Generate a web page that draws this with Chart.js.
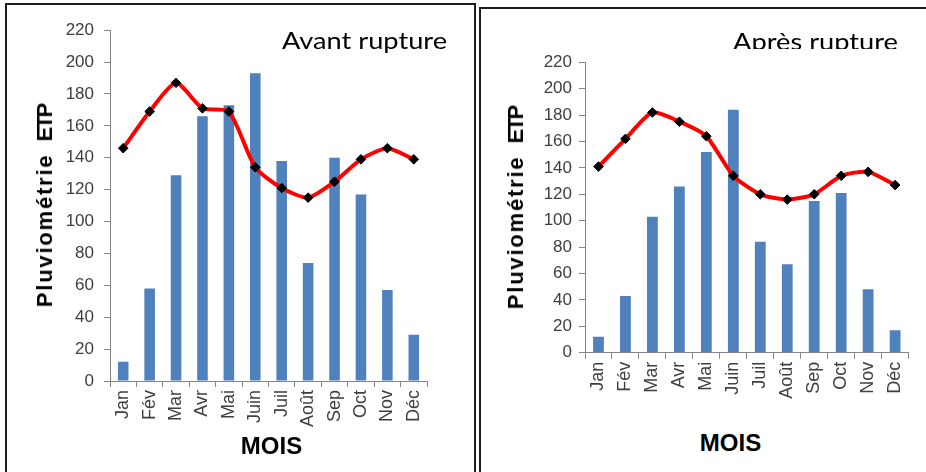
<!DOCTYPE html>
<html><head><meta charset="utf-8">
<script src="https://cdn.jsdelivr.net/npm/chart.js@4"></script>
<style>
html,body{margin:0;padding:0;background:#fff;width:926px;height:472px;overflow:hidden;position:relative;font-family:"Liberation Sans",Arial,sans-serif;}
.panel{position:absolute;border:2px solid #1e1e1e;border-bottom:none;box-sizing:border-box;}
.cv{position:absolute;}
.ytitle{position:absolute;font-weight:bold;font-size:22px;line-height:1;white-space:pre;color:#000;transform:translate(-50%,-50%) rotate(-90deg);}
.ytitle .a{letter-spacing:1.8px;display:inline-block;}
.ytitle .b{letter-spacing:-2px;margin-left:12px;display:inline-block;}
.xtitle{position:absolute;font-weight:bold;font-size:24px;line-height:1;white-space:pre;color:#000;transform:translate(-50%,-50%);}
.ttl{position:absolute;font-family:Lato,"Open Sans",sans-serif;font-size:24px;line-height:1.2;white-space:pre;color:#000;transform-origin:left top;}
.clip{position:absolute;overflow:hidden;}
</style></head>
<body>
<div class="panel" style="left:5px;top:3px;width:471px;height:480px;"></div>
<div class="panel" style="left:479px;top:7px;width:460px;height:480px;border-right:none;"></div>

<canvas id="c1" class="cv" width="440" height="440" style="left:10px;top:10px;width:440px;height:440px;"></canvas>
<canvas id="c2" class="cv" width="430" height="380" style="left:490px;top:40px;width:430px;height:380px;"></canvas>

<div class="ttl" id="t1" style="left:282px;top:25.6px;">Avant rupture</div>
<div class="clip" style="left:700px;top:10px;width:220px;height:38.8px;">
  <div class="ttl" id="t2" style="left:33px;top:17.2px;">Après rupture</div>
</div>

<div class="ytitle" style="left:45px;top:205.5px;"><span class="a">Pluviométrie</span><span class="b">ETP</span></div>
<div class="ytitle" style="left:516px;top:207.5px;"><span class="a">Pluviométrie</span><span class="b">ETP</span></div>
<div class="xtitle" style="left:271.5px;top:445.5px;">MOIS</div>
<div class="xtitle" style="left:730.5px;top:442.5px;">MOIS</div>

<script>
const months = ['Jan','Fév','Mar','Avr','Mai','Juin','Juil','Août','Sep','Oct','Nov','Déc'];
const pluieAvant = [12,58,129,166,173,193,138,74,140,117,57,29];
const etpAvant   = [146,169,187,171,169,134,121,115,125,139,146,139];
const pluieApres = [12,43,103,126,152,184,84,67,115,121,48,17];
const etpApres   = [141,162,182,175,164,134,120,116,120,134,137,127];
const yMin = 0, yMax = 220, yStep = 20;

function makeChart(id, pluie, etp, g){
  const axisColor = '#868686';
  const tickColor = '#404040';
  return new Chart(document.getElementById(id), {
    type:'bar',
    data:{labels:months, datasets:[
      {type:'line', label:'ETP', data:etp, borderColor:'#ff0000', borderWidth:4, tension:0.22,
       pointStyle:'rectRot', pointRadius:4.8, pointBackgroundColor:'#000', pointBorderColor:'#000', pointBorderWidth:1, order:0},
      {type:'bar', label:'Pluviométrie', data:pluie, backgroundColor:'#4f81bd', barPercentage:0.4, categoryPercentage:1, order:1}
    ]},
    options:{
      responsive:false, animation:false, devicePixelRatio:1,
      layout:{padding:g.pad},
      plugins:{legend:{display:false}, tooltip:{enabled:false}},
      scales:{
        y:{min:yMin, max:yMax,
           ticks:{stepSize:yStep, color:tickColor, font:{family:'"Liberation Sans", Arial, sans-serif', size:17}, padding:g.ypad},
           grid:{drawOnChartArea:false, drawTicks:true, tickLength:6, color:axisColor},
           border:{display:true, color:axisColor, width:1},
           afterFit:s=>{s.width = g.yW;}},
        x:{ticks:{minRotation:90, maxRotation:90, autoSkip:false, color:tickColor, font:{family:'"Liberation Sans", Arial, sans-serif', size:18}, padding:3},
           grid:{drawOnChartArea:false, drawTicks:true, tickLength:6, color:axisColor, offset:true},
           border:{display:true, color:axisColor, width:1},
           afterFit:s=>{s.height = g.xH;}}
      }
    }
  });
}
makeChart('c1', pluieAvant, etpAvant, {pad:{top:17,right:23,bottom:0,left:0}, yW:100, xH:69, ypad:10});
makeChart('c2', pluieApres, etpApres, {pad:{top:22.3,right:7,bottom:0,left:0}, yW:95, xH:67.3, ypad:7});

function fitW(id, w){
  const el = document.getElementById(id);
  const cur = el.getBoundingClientRect().width;
  if (cur > 0) el.style.transform = 'scaleX(' + (w/cur) + ')';
}
fitW('t1', 165); fitW('t2', 165);
</script>
</body></html>
